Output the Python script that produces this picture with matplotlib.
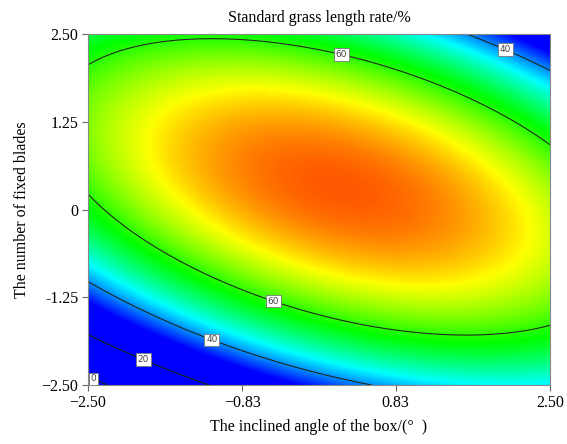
import numpy as np
import matplotlib
matplotlib.use("Agg")
import matplotlib.pyplot as plt
from matplotlib.colors import LinearSegmentedColormap

# quadratic response model (coded factors)
b0 = 77.77
b1 = 2.054     # inclined angle
b2 = 4.038     # number of fixed blades
b12 = -3.129
b11 = -2.398
b22 = -5.204

x_ticks = [-2.50, -0.83, 0.83, 2.50]
x_ticklabels = ["\u22122.50", "\u22120.83", "0.83", "2.50"]
y_ticks = [-2.50, -1.25, 0, 1.25, 2.50]
y_ticklabels = ["\u22122.50", "-1.25", "0", "1.25", "2.50"]
levels = [0, 20, 40, 60]
label_pos = [(-2.42, -2.36), (-1.88, -2.07), (-1.14, -1.79),
             (-0.48, -1.25), (0.25, 2.27), (2.03, 2.33)]

plt.rcParams['font.family'] = ['Liberation Serif', 'DejaVu Serif']

x = np.linspace(-2.5, 2.5, 300)
y = np.linspace(-2.5, 2.5, 300)
X, Y = np.meshgrid(x, y)
Z = b0 + b1*X + b2*Y + b12*X*Y + b11*X**2 + b22*Y**2

cmap = LinearSegmentedColormap.from_list(
    "de", ["#0000ff", "#00ffff", "#00ff00", "#ffff00", "#ff0000"])

fig = plt.figure(figsize=(5.67, 4.44), dpi=100)
ax = fig.add_axes([0.1552, 0.1329, 0.8148, 0.7905])
ax.pcolormesh(X, Y, Z, cmap=cmap, vmin=33, vmax=83, shading='gouraud')
cs = ax.contour(X, Y, Z, levels=levels, colors='#1e2a1e', linewidths=0.8,
                linestyles='solid')
ax.clabel(cs, fmt='%d', fontsize=6.5, inline=False, manual=label_pos)
for t in cs.labelTexts:
    t.set_rotation(0)
    t.set_family('DejaVu Sans')
    t.set_color('#444444')
    t.set_bbox(dict(boxstyle='square,pad=0.2', fc='white', ec='#777777', lw=0.6))

ax.set_xlim(-2.5, 2.5)
ax.set_ylim(-2.5, 2.5)
ax.set_xticks(x_ticks)
ax.set_xticklabels(x_ticklabels)
ax.set_yticks(y_ticks)
ax.set_yticklabels(y_ticklabels)
ax.tick_params(direction='out', length=4, width=0.8, color='#666666',
               labelsize=11.5, pad=3)
for s in ax.spines.values():
    s.set_color('#888888')
    s.set_linewidth(0.8)

ax.set_title("Standard grass length rate/%", fontsize=11.5, pad=9)
ax.set_xlabel("The inclined angle of the box/(\u00b0  )", fontsize=11.5, labelpad=6)
ax.set_ylabel("The number of fixed blades", fontsize=11.5, labelpad=8)

fig.savefig("out.png", dpi=100)
